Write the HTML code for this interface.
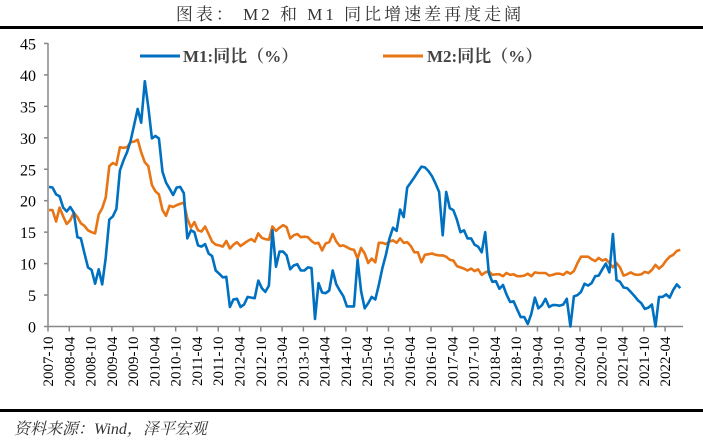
<!DOCTYPE html>
<html><head><meta charset="utf-8"><style>
body{margin:0;background:#fff;}
svg text{font-family:"Liberation Serif","Noto Serif CJK SC",serif;}
</style></head><body>
<svg id="s" width="703" height="440" xmlns="http://www.w3.org/2000/svg">
<text x="350" y="20" text-anchor="middle" font-size="17" letter-spacing="3" fill="#333">图表：  M2 和 M1 同比增速差再度走阔</text>
<rect x="0" y="26" width="703" height="3" fill="#000"/>
<rect x="0" y="409" width="703" height="3" fill="#000"/>
<text x="14" y="434" font-size="16" font-style="italic" fill="#333">资料来源：Wind，泽平宏观</text>
<g id="ax"></g>
<line x1="140" y1="56" x2="180" y2="56" stroke="#0070C0" stroke-width="3"/>
<text x="183" y="62" font-size="17" font-weight="bold" fill="#444">M1:同比（%）</text>
<line x1="383" y1="56" x2="423" y2="56" stroke="#E87515" stroke-width="3"/>
<text x="427" y="62" font-size="17" font-weight="bold" fill="#444">M2:同比（%）</text>
</svg>
<script>
var m1=[22.2,22.1,21.0,20.7,18.9,18.3,19.0,18.1,14.2,14.0,11.6,9.4,9.0,6.8,9.1,6.7,10.9,17.0,17.5,18.7,24.8,26.4,27.7,29.5,32.0,34.6,32.4,39.0,34.9,29.9,30.3,29.9,24.6,22.9,21.9,20.9,22.1,22.2,21.2,14.0,15.3,15.0,12.9,12.7,13.1,11.6,11.2,8.9,8.4,7.8,7.9,3.1,4.3,4.4,3.1,3.5,4.7,4.6,4.5,7.3,6.1,5.5,6.5,15.3,9.5,11.9,11.9,11.3,9.1,9.7,9.9,8.9,8.9,9.4,9.3,1.2,6.9,5.4,5.3,5.7,8.9,6.7,5.7,4.8,3.2,3.2,3.2,10.6,5.6,2.9,3.7,4.7,4.3,6.6,9.3,11.4,14.0,15.7,15.2,18.6,17.4,22.1,22.9,23.7,24.6,25.4,25.3,24.7,23.9,22.7,21.4,14.5,21.4,18.8,18.5,17.0,15.0,15.3,14.0,14.0,13.0,12.7,11.8,15.0,8.5,7.1,7.2,6.0,6.6,5.1,3.9,4.0,2.7,1.5,1.5,0.4,2.0,4.6,2.9,3.4,4.4,3.1,3.4,3.4,3.3,3.5,4.4,0.0,4.8,5.0,5.5,6.8,6.5,6.9,8.0,8.1,9.1,10.0,8.6,14.7,7.4,7.1,6.2,6.1,5.5,4.9,4.2,3.7,2.8,3.0,3.5,0,4.7,4.7,5.1,4.6,5.8,6.7,6.1];
var m2=[18.5,18.5,16.7,18.9,17.5,16.3,16.9,18.1,17.4,16.4,16.0,15.3,15.0,14.8,17.8,18.8,20.5,25.5,26.0,25.7,28.5,28.4,28.5,29.3,29.4,29.7,27.7,26.1,25.5,22.5,21.5,21.0,18.5,17.6,19.2,19.0,19.3,19.5,19.7,17.2,15.7,16.6,15.3,15.1,15.9,14.7,13.5,13.0,12.9,12.7,13.6,12.4,13.0,13.4,12.8,13.2,13.6,13.9,13.5,14.8,14.1,13.9,13.8,15.9,15.2,15.7,16.1,15.8,14.0,14.5,14.7,14.2,14.3,14.2,13.6,13.2,13.3,12.1,13.2,13.4,14.7,13.5,12.8,12.9,12.6,12.3,12.2,10.8,12.5,11.6,10.1,10.8,10.2,13.3,13.3,13.1,13.5,13.7,13.3,14.0,13.3,13.4,12.8,11.8,11.8,10.2,11.4,11.5,11.6,11.4,11.3,11.3,11.1,10.6,10.5,9.6,9.4,9.2,8.9,9.2,8.8,9.1,8.2,8.6,8.8,8.2,8.3,8.3,8.0,8.5,8.2,8.3,8.0,8.0,8.1,8.4,8.0,8.6,8.5,8.5,8.5,8.1,8.2,8.4,8.4,8.2,8.7,8.4,8.8,10.1,11.1,11.1,11.1,10.7,10.4,10.9,10.5,10.7,10.1,9.4,10.1,9.4,8.1,8.3,8.6,8.3,8.2,8.3,8.7,8.5,9.0,9.8,9.2,9.7,10.5,11.1,11.4,12.0,12.2];
var NS="http://www.w3.org/2000/svg",g=document.getElementById('ax');
function el(t,a,txt){var e=document.createElementNS(NS,t);for(var k in a)e.setAttribute(k,a[k]);if(txt!=null)e.textContent=txt;g.appendChild(e);return e;}
var X0=48,Y0=326.5,SY=6.29,DX=21.28/6;
el('line',{x1:X0,y1:43,x2:X0,y2:Y0,stroke:'#888','stroke-width':1.5});
el('line',{x1:X0,y1:Y0,x2:683,y2:Y0,stroke:'#888','stroke-width':1.5});
for(var v=0;v<=45;v+=5){var y=Y0-v*SY;el('line',{x1:X0-4,y1:y,x2:X0,y2:y,stroke:'#888','stroke-width':1.5});el('text',{x:36,y:y+6,'text-anchor':'end','font-size':16,fill:'#000'},''+v);}
for(var i=0;i<30;i++){var x=X0+i*21.28,yr=2007+Math.floor((i+1)/2),mo=(i%2==0)?'10':'04';el('line',{x1:x,y1:Y0,x2:x,y2:Y0+5,stroke:'#888','stroke-width':1.5});el('text',{x:0,y:0,'text-anchor':'end','font-size':15,fill:'#000',transform:'translate('+(x+5)+','+(Y0+10)+') rotate(-90)'},yr+'-'+mo);}
function pl(d,c){var p=d.map(function(v,i){return (X0+1+i*DX).toFixed(1)+','+(Y0-Math.max(0,v)*SY).toFixed(1);}).join(' ');el('polyline',{points:p,fill:'none',stroke:c,'stroke-width':2.6,'stroke-linejoin':'round'});}
pl(m2,'#E87515');pl(m1,'#0070C0');
</script>
</body></html>
